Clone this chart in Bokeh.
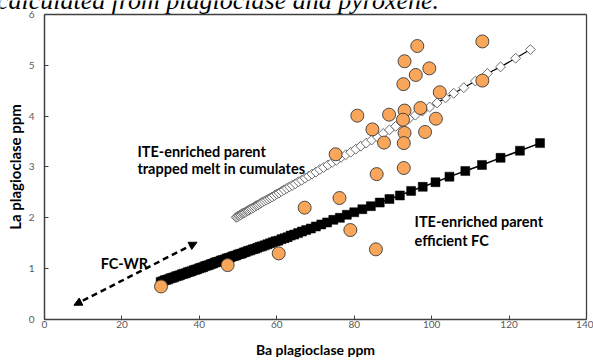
from bokeh.plotting import figure
from bokeh.models import (Range1d, FixedTicker, Label, Arrow, NormalHead, ColumnDataSource,
                          LinearAxis)
from bokeh.embed import file_html
from bokeh.resources import INLINE

# ---------------- data ----------------
x_ticks = [0, 20, 40, 60, 80, 100, 120, 140]
y_ticks = [0, 1, 2, 3, 4, 5, 6]
x_lim = (0, 140)
y_lim = (0, 6)

# measured plagioclase compositions (orange circles)
ba_samples = [113.1, 96.3, 93.0, 99.4, 95.9, 92.7, 113.1, 102.1, 80.8, 89.0,
              93.0, 97.1, 92.6, 101.1, 84.7, 93.0, 98.3, 87.7, 92.8, 75.2,
              92.8, 85.8, 76.2, 67.2, 79.0, 85.6, 30.1, 47.3, 60.5]
la_samples = [5.47, 5.38, 5.08, 4.94, 4.81, 4.63, 4.70, 4.47, 4.01, 4.03,
              4.11, 4.16, 3.93, 3.95, 3.74, 3.67, 3.69, 3.48, 3.47, 3.25,
              2.98, 2.86, 2.39, 2.20, 1.76, 1.38, 0.65, 1.07, 1.30]

# model: ITE-enriched parent, efficient FC (black squares)
ba_fc = [30.0, 30.5, 31.0, 31.5, 32.0, 32.5, 33.0, 33.5, 34.0, 34.5,
         35.0, 35.5, 36.0, 36.5, 37.0, 37.5, 38.0, 38.5, 39.0, 39.5,
         40.0, 40.5, 41.0, 41.5, 42.0, 42.5, 43.0, 43.5, 44.0, 44.5,
         45.0, 45.5, 46.0, 46.5, 47.0, 47.5, 48.0, 48.5, 49.0, 49.5,
         50.0, 50.5, 51.0, 51.5, 52.0, 52.6, 53.2, 53.8, 54.4, 55.0,
         55.6, 56.2, 56.9, 57.6, 58.3, 59.0, 59.7, 60.4, 61.2, 62.0,
         62.8, 63.6, 64.5, 65.5, 66.5, 67.6, 68.8, 70.1, 71.5, 73.0,
         74.6, 76.3, 78.1, 80.0, 82.1, 84.3, 86.6, 89.1, 91.8, 94.7,
         97.7, 101.0, 104.6, 108.7, 113.0, 117.8, 122.8, 128.0]
la_fc = [0.74, 0.75, 0.77, 0.78, 0.79, 0.81, 0.82, 0.83, 0.85, 0.86,
         0.87, 0.89, 0.90, 0.91, 0.93, 0.94, 0.95, 0.97, 0.98, 0.99,
         1.01, 1.02, 1.03, 1.05, 1.06, 1.07, 1.09, 1.10, 1.12, 1.13,
         1.14, 1.16, 1.17, 1.18, 1.20, 1.21, 1.22, 1.24, 1.25, 1.26,
         1.28, 1.29, 1.30, 1.32, 1.33, 1.35, 1.36, 1.38, 1.39, 1.41,
         1.43, 1.44, 1.46, 1.48, 1.50, 1.52, 1.54, 1.55, 1.58, 1.60,
         1.62, 1.65, 1.67, 1.70, 1.73, 1.76, 1.79, 1.83, 1.87, 1.91,
         1.96, 2.00, 2.06, 2.11, 2.17, 2.23, 2.30, 2.37, 2.44, 2.53,
         2.61, 2.70, 2.81, 2.92, 3.04, 3.18, 3.32, 3.47]

# model: ITE-enriched parent, trapped melt in cumulates (open diamonds)
ba_tm = [49.5, 49.8, 50.1, 50.4, 50.7, 51.0, 51.3, 51.6, 51.9, 52.2,
         52.5, 52.8, 53.1, 53.5, 53.9, 54.3, 54.7, 55.1, 55.5, 55.9,
         56.3, 56.8, 57.3, 57.8, 58.3, 58.8, 59.4, 60.0, 60.6, 61.2,
         61.9, 62.6, 63.3, 64.0, 64.8, 65.6, 66.4, 67.3, 68.2, 69.1,
         70.1, 71.1, 72.1, 73.2, 74.3, 75.4, 76.6, 77.8, 79.1, 80.4,
         81.7, 83.1, 84.5, 86.0, 87.5, 89.1, 90.7, 92.4, 94.1, 95.8,
         97.6, 99.5, 101.4, 103.6, 105.7, 108.3, 111.3, 114.4, 117.8, 121.7,
         125.5]
la_tm = [2.01, 2.02, 2.04, 2.05, 2.06, 2.08, 2.09, 2.10, 2.11, 2.13,
         2.14, 2.15, 2.17, 2.18, 2.20, 2.22, 2.24, 2.25, 2.27, 2.29,
         2.31, 2.33, 2.35, 2.37, 2.39, 2.41, 2.44, 2.47, 2.49, 2.52,
         2.55, 2.58, 2.61, 2.64, 2.67, 2.71, 2.74, 2.78, 2.82, 2.86,
         2.90, 2.95, 2.99, 3.04, 3.09, 3.13, 3.19, 3.24, 3.29, 3.35,
         3.41, 3.47, 3.53, 3.59, 3.66, 3.73, 3.80, 3.87, 3.95, 4.02,
         4.10, 4.18, 4.26, 4.36, 4.45, 4.56, 4.69, 4.84, 4.97, 5.14,
         5.31]

# FC-WR arrow end points (data units)
arrow_start = (7.6, 0.28)
arrow_end = (39.4, 1.52)

title_text = "calculated from plagioclase and pyroxene."
x_title = "Ba plagioclase ppm"
y_title = "La plagioclase ppm"

# ---------------- styling ----------------
FONT = "Lato"
AXIS_COL = "#404040"
TICK_LABEL_COL = "#595959"
ORANGE = "#F9A65A"

# The frame fills the whole canvas so that the cropped caption can show at the top;
# the visible box (0..140 x 0..6) is drawn by four bounded, fixed-location axes.
LEFT_EXTRA = 11.365   # 44 px left of x = 0
RIGHT_EXTRA = 1.808   # 7 px right of x = 140
TOP_EXTRA = 0.2754    # 14 px above y = 6
BOTTOM_EXTRA = 0.8066 # 41 px below y = 0

p = figure(width=593, height=360,
           x_range=Range1d(x_lim[0] - LEFT_EXTRA, x_lim[1] + RIGHT_EXTRA),
           y_range=Range1d(y_lim[0] - BOTTOM_EXTRA, y_lim[1] + TOP_EXTRA),
           output_backend="svg", toolbar_location=None,
           min_border_left=0, min_border_right=0,
           min_border_top=0, min_border_bottom=0)

p.xgrid.visible = False
p.ygrid.visible = False
p.outline_line_color = None
p.background_fill_color = "white"
p.border_fill_color = "white"

p.xaxis.ticker = FixedTicker(ticks=x_ticks)
p.yaxis.ticker = FixedTicker(ticks=y_ticks)
p.xaxis.bounds = x_lim
p.yaxis.bounds = y_lim
p.xaxis.fixed_location = y_lim[0]
p.yaxis.fixed_location = x_lim[0]
for ax in (p.xaxis, p.yaxis):
    ax.major_tick_in = 4
    ax.major_tick_out = 0
    ax.minor_tick_in = 0
    ax.minor_tick_out = 0
    ax.axis_line_color = AXIS_COL
    ax.axis_line_width = 1.5
    ax.major_tick_line_color = AXIS_COL
    ax.major_tick_line_width = 1
    ax.major_label_text_font = FONT
    ax.major_label_text_font_size = "10px"
    ax.major_label_text_color = TICK_LABEL_COL
    ax.axis_label_text_font = FONT
    ax.axis_label_text_font_style = "bold"
    ax.axis_label_text_color = "black"

p.xaxis.axis_label = x_title
p.yaxis.axis_label = y_title
p.xaxis.axis_label_text_font_size = "14px"
p.yaxis.axis_label_text_font_size = "15px"
p.xaxis.major_label_standoff = 2
p.yaxis.major_label_standoff = 10
p.xaxis.axis_label_standoff = 9
p.yaxis.axis_label_standoff = 2

# right and top spines of the box
def spine(bounds, loc):
    return LinearAxis(ticker=FixedTicker(ticks=[]), bounds=bounds, fixed_location=loc,
                      axis_line_color=AXIS_COL, axis_line_width=1.3,
                      major_tick_in=0, major_tick_out=0,
                      minor_tick_in=0, minor_tick_out=0,
                      major_label_standoff=0, major_label_text_font_size="0px")

p.add_layout(spine(y_lim, x_lim[1]), "right")
p.add_layout(spine(x_lim, y_lim[1]), "above")

# efficient FC model: black squares with line
fc_src = ColumnDataSource(dict(x=ba_fc, y=la_fc))
p.line("x", "y", source=fc_src, line_color="black", line_width=1.5)
p.scatter("x", "y", source=fc_src, marker="square", size=9,
          fill_color="black", line_color="black", line_width=0.5)

# trapped melt model: open diamonds with line
tm_src = ColumnDataSource(dict(x=ba_tm, y=la_tm))
p.line("x", "y", source=tm_src, line_color="black", line_width=1.2)
p.scatter("x", "y", source=tm_src, marker="square", angle=0.785398, size=7,
          fill_color="white", line_color="#5a5a5a", line_width=0.9)

# samples
p.scatter(ba_samples, la_samples, marker="circle", size=13,
          fill_color=ORANGE, line_color="#3a3a3a", line_width=0.9)

# FC-WR double arrow
p.add_layout(Arrow(start=NormalHead(size=8, fill_color="black", line_color="black"),
                   end=NormalHead(size=8, fill_color="black", line_color="black"),
                   x_start=arrow_start[0], y_start=arrow_start[1],
                   x_end=arrow_end[0], y_end=arrow_end[1],
                   line_color="black", line_width=2.5, line_dash="6 4"))

def add_label(x, y, text, **kw):
    opts = dict(text_font=FONT, text_font_style="bold", text_font_size="14.5px",
                text_color="black", text_baseline="middle", text_align="left")
    opts.update(kw)
    p.add_layout(Label(x=x, y=y, text=text, **opts))

add_label(24.0, 3.31, "ITE-enriched parent")
add_label(24.0, 2.97, "trapped melt in cumulates")
add_label(95.6, 1.92, "ITE-enriched parent")
add_label(95.6, 1.55, "efficient FC")
add_label(14.5, 1.10, "FC-WR")

# cropped caption at the very top
p.add_layout(Label(x=-12.3, y=6.285, text=title_text, text_font="Liberation Serif",
                   text_font_style="italic", text_font_size="26px",
                   text_color="black", text_baseline="alphabetic", text_align="left"))

open("out.html", "w").write(file_html(p, INLINE))
